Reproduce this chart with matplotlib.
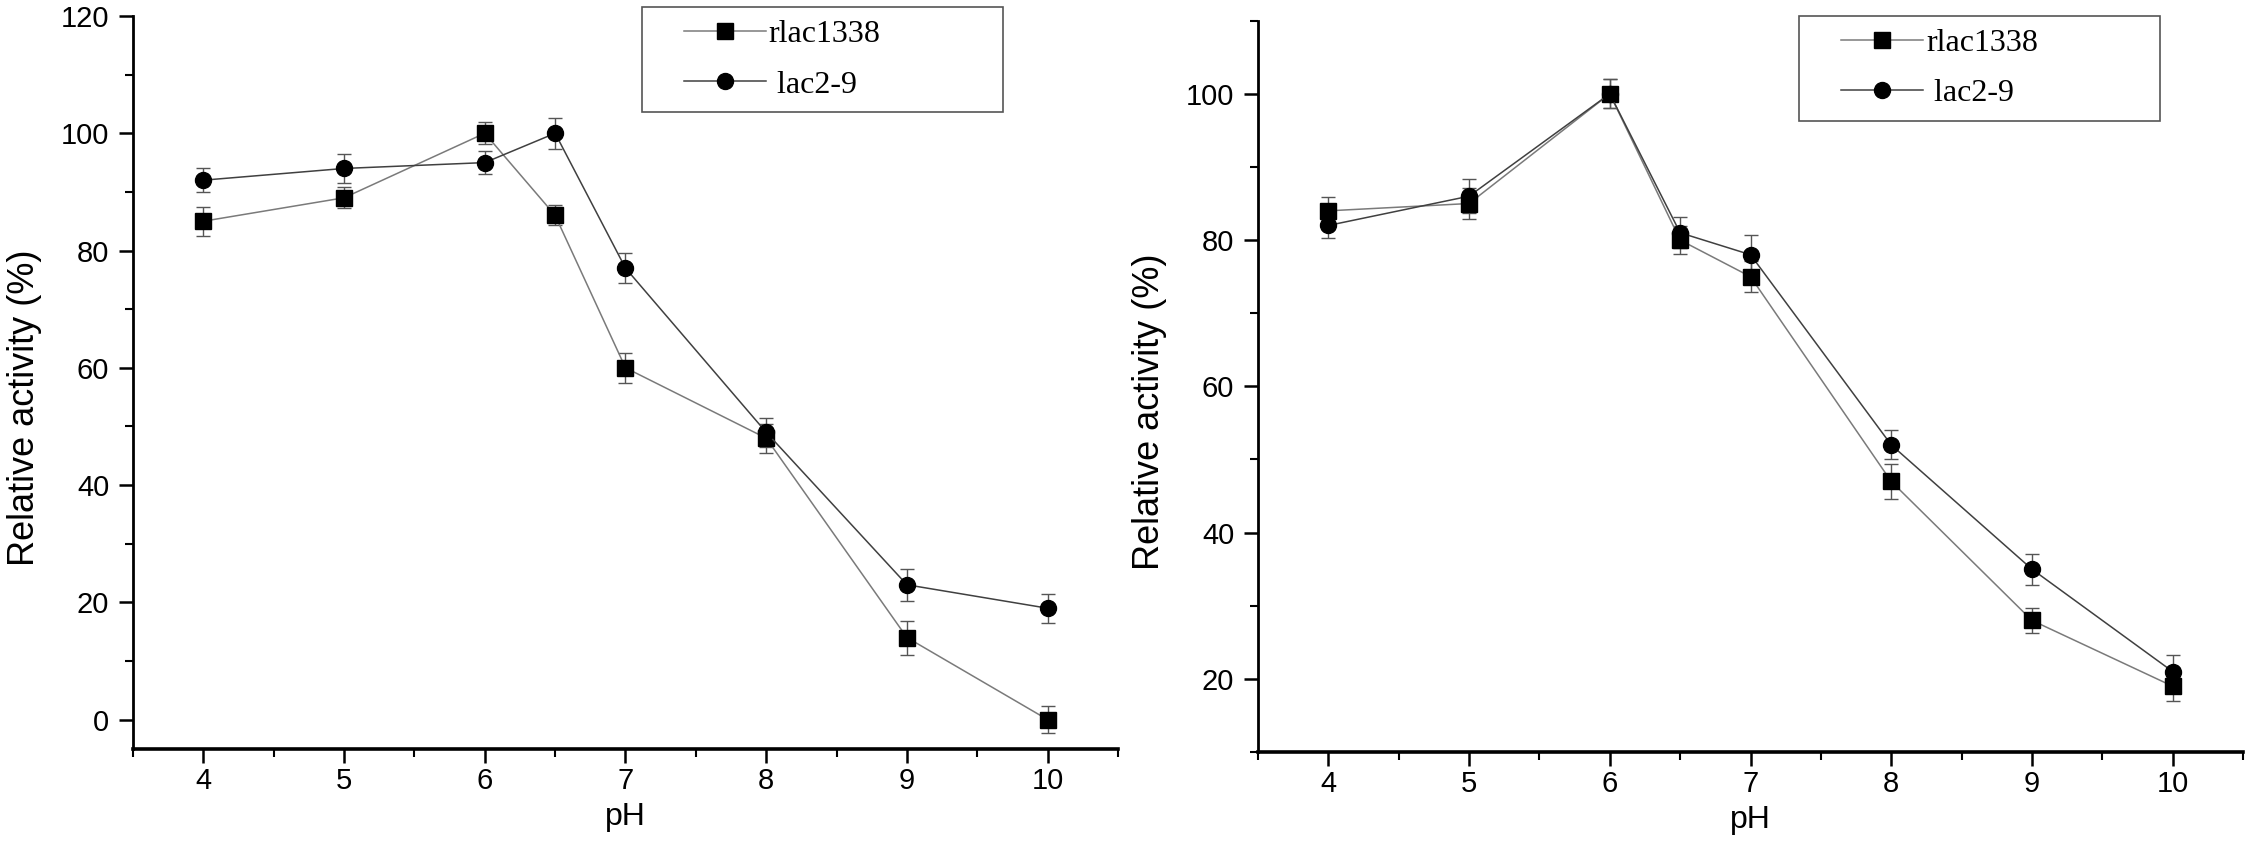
import matplotlib
matplotlib.use("Agg")
import matplotlib.pyplot as plt
from matplotlib.ticker import MultipleLocator, FixedLocator
from matplotlib.legend_handler import HandlerLine2D
from matplotlib.lines import Line2D

# ---------------- data ----------------
ph = [4, 5, 6, 6.5, 7, 8, 9, 10]
xticks = [4, 5, 6, 7, 8, 9, 10]

# left panel
rlac1338_left = [85, 89, 100, 86, 60, 48, 14, 0]
rlac1338_left_err = [2.5, 1.8, 1.9, 1.7, 2.6, 2.5, 2.9, 2.3]
lac29_left = [92, 94, 95, 100, 77, 49, 23, 19]
lac29_left_err = [2.0, 2.4, 1.9, 2.6, 2.5, 2.5, 2.7, 2.5]

# right panel
rlac1338_right = [84, 85, 100, 80, 75, 47, 28, 19]
rlac1338_right_err = [1.9, 2.1, 2.0, 1.9, 2.1, 2.4, 1.7, 2.0]
lac29_right = [82, 86, 100, 81, 78, 52, 35, 21]
lac29_right_err = [1.7, 2.3, 2.0, 2.1, 2.7, 2.0, 2.1, 2.3]

series_names = ["rlac1338", " lac2-9"]
xlabel = "pH"
ylabel = "Relative activity (%)"

# ---------------- style ----------------
plt.rcParams["font.family"] = ["Liberation Sans", "DejaVu Sans"]

fig = plt.figure(figsize=(22.5, 8.51), dpi=100)
axL = fig.add_axes([0.0591, 0.1199, 0.4378, 0.8613])
axR = fig.add_axes([0.5591, 0.1163, 0.4378, 0.8594])

line_colors = ["#7a7a7a", "#404040"]
markers = ["s", "o"]
msizes = [11, 11.5]


def draw_panel(ax, ys, errs, ylim, ymajor, leg_anchor):
    handles = []
    for i, (y, e) in enumerate(zip(ys, errs)):
        ax.errorbar(ph, y, yerr=e, fmt="none", ecolor="#555555",
                    elinewidth=1.0, capsize=5, capthick=1.0, zorder=2)
        h, = ax.plot(ph, y, color=line_colors[i], lw=1.1, marker=markers[i],
                     ms=msizes[i], mfc="black", mec="black", zorder=3,
                     label=series_names[i])
        handles.append(h)
    ax.set_xlim(3.5, 10.5)
    ax.set_ylim(*ylim)
    ax.xaxis.set_major_locator(FixedLocator(xticks))
    ax.xaxis.set_minor_locator(MultipleLocator(0.5))
    ax.yaxis.set_major_locator(MultipleLocator(ymajor))
    ax.yaxis.set_minor_locator(MultipleLocator(10))
    for s in ["top", "right"]:
        ax.spines[s].set_visible(False)
    ax.spines["left"].set_linewidth(2.0)
    ax.spines["bottom"].set_linewidth(2.6)
    ax.tick_params(axis="both", which="major", direction="out", length=10,
                   width=1.8, labelsize=21)
    ax.tick_params(axis="both", which="minor", direction="out", length=5.5,
                   width=1.5)
    ax.tick_params(axis="x", which="major", pad=3)
    ax.tick_params(axis="y", which="major", pad=7)
    ax.set_xlabel(xlabel, fontsize=23, labelpad=5)
    ax.set_ylabel(ylabel, fontsize=26)
    ax.yaxis.set_label_coords(-0.092, 0.465)

    fs = 23
    fpx = fs * 100 / 72
    hmap = {Line2D: HandlerLine2D(numpoints=1, xpad=29 / fpx)}
    leg = ax.legend(handles=handles, loc="upper left",
                    bbox_to_anchor=leg_anchor, mode="expand",
                    borderaxespad=0, prop={"family": "Liberation Serif", "size": fs},
                    handlelength=(29 + 82) / fpx, handletextpad=0.1,
                    borderpad=0.4, labelspacing=0.65, fancybox=False,
                    handler_map=hmap)
    fr = leg.get_frame()
    fr.set_edgecolor("#555555")
    fr.set_linewidth(1.2)
    fr.set_alpha(1)


draw_panel(axL, [rlac1338_left, lac29_left], [rlac1338_left_err, lac29_left_err],
           (-5, 120), 20, (0.5165, 1.0119, 0.3665, 0))
draw_panel(axR, [rlac1338_right, lac29_right], [rlac1338_right_err, lac29_right_err],
           (10, 110), 20, (0.5492, 1.0068, 0.3665, 0))

fig.savefig("out.png", dpi=100)
